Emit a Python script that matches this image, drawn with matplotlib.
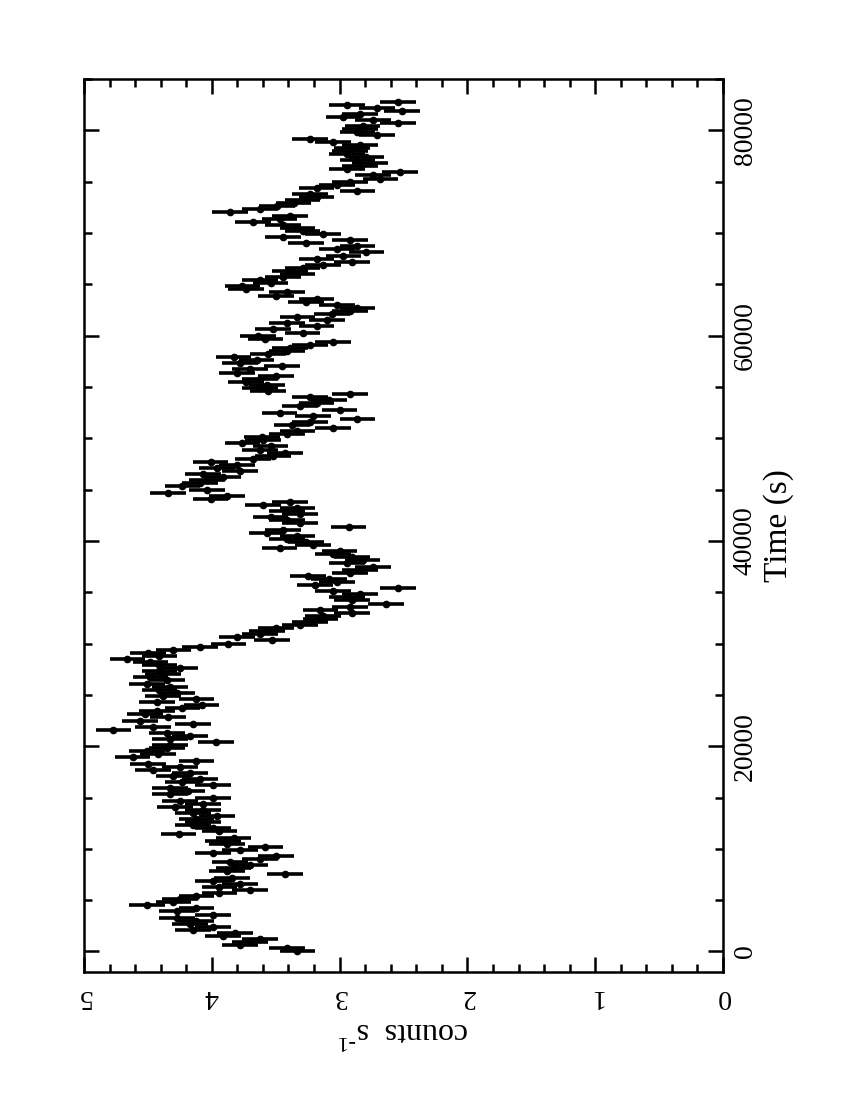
import numpy as np
import matplotlib
matplotlib.use('Agg')
import matplotlib.pyplot as plt
from matplotlib.ticker import MultipleLocator

plt.rcParams['font.family'] = ['Liberation Serif', 'DejaVu Serif']
plt.rcParams['mathtext.fontset'] = 'custom'
plt.rcParams['mathtext.rm'] = 'Liberation Serif'

# light curve, 300 s bins starting at t = 0
time_bin = 300.0
count_err = 0.14
rate = [
    3.33, 3.41, 3.78, 3.70, 3.62, 3.91, 3.82, 4.15, 3.99, 4.17,
    4.12, 4.27, 3.99, 4.27, 4.12, 4.51, 4.30, 4.25, 4.12, 3.94,
    3.70, 3.94, 3.78, 3.99, 3.84, 3.43, 3.88, 3.83, 3.70, 3.86,
    3.62, 3.50, 3.99, 3.78, 3.58, 3.88, 3.91, 3.83, 4.26, 3.94,
    3.99, 4.15, 4.07, 4.12, 3.96, 4.15, 4.07, 4.29, 4.07, 4.25,
    3.99, 4.33, 4.19, 4.33, 3.99, 4.23, 4.09, 4.30, 4.17, 4.46,
    4.25, 4.50, 4.12, 4.62, 4.42, 4.51, 4.35, 4.33, 3.97, 4.33,
    4.17, 4.35, 4.77, 4.46, 4.15, 4.56, 4.34, 4.52, 4.43, 4.23,
    4.08, 4.43, 4.12, 4.38, 4.27, 4.41, 4.33, 4.51, 4.35, 4.48,
    4.38, 4.41, 4.25, 4.41, 4.48, 4.66, 4.41, 4.50, 4.30, 4.09,
    3.87, 3.53, 3.80, 3.62, 3.57, 3.50, 3.31, 3.23, 3.15, 3.13,
    2.90, 3.15, 2.92, 2.64, 2.90, 2.94, 2.84, 3.05, 2.54, 3.19,
    3.02, 3.08, 3.25, 2.92, 2.84, 2.74, 2.94, 2.82, 2.90, 3.05,
    3.00, 3.47, 3.21, 3.26, 3.41, 3.33, 3.57, 3.44, 2.93, 3.31,
    3.41, 3.54, 3.31, 3.41, 3.33, 3.60, 3.39, 4.01, 3.88, 4.34,
    4.04, 4.23, 4.09, 4.04, 3.91, 4.07, 3.78, 3.96, 3.80, 4.01,
    3.68, 3.52, 3.43, 3.62, 3.54, 3.76, 3.60, 3.61, 3.41, 3.33,
    3.05, 3.37, 3.23, 2.86, 3.21, 3.47, 3.00, 3.31, 3.18, 3.08,
    3.23, 2.92, 3.56, 3.62, 3.57, 3.73, 3.62, 3.50, 3.80, 3.70,
    3.45, 3.78, 3.65, 3.83, 3.56, 3.41, 3.39, 3.23, 3.05, 3.58,
    3.64, 3.29, 3.52, 3.18, 3.41, 3.10, 3.33, 3.06, 2.92, 2.86,
    3.02, 3.26, 3.18, 3.50, 3.41, 3.73, 3.76, 3.54, 3.62, 3.44,
    3.33, 3.39, 3.29, 3.13, 2.90, 3.18, 2.97, 2.79, 3.02, 2.86,
    3.26, 2.92, 3.44, 3.13, 3.29, 3.33, 3.44, 3.68, 3.47, 3.39,
    3.86, 3.62, 3.49, 3.36, 3.29, 3.18, 3.23, 2.86, 3.18, 3.02,
    2.92, 2.68, 2.74, 2.53, 2.94, 2.84, 2.76, 2.86, 2.79, 2.94,
    2.92, 2.90, 2.84, 3.05, 3.23, 2.71, 2.86, 2.84, 2.82, 2.54,
    2.74, 2.97, 2.84, 2.51, 2.71, 2.94, 2.54,
]

time = np.arange(len(rate)) * time_bin

fig = plt.figure(figsize=(8.5, 11), dpi=100)
ax = fig.add_axes([84 / 850, 1 - 972 / 1100, (723 - 84) / 850, (972 - 79) / 1100])

ax.errorbar(rate, time, xerr=count_err, yerr=time_bin / 2, fmt='o', color='black',
            ms=4.5, elinewidth=2.6, capsize=0)

ax.set_xlim(5, 0)
ax.set_ylim(-2000, 85000)

ax.xaxis.set_major_locator(MultipleLocator(1))
ax.xaxis.set_minor_locator(MultipleLocator(0.2))
ax.yaxis.set_major_locator(MultipleLocator(20000))
ax.yaxis.set_minor_locator(MultipleLocator(5000))

ax.tick_params(which='both', direction='in', top=True, bottom=True, left=True, right=True,
               labelleft=False, labelright=True, width=1.8)
ax.tick_params(which='major', length=11)
ax.tick_params(which='minor', length=6)
ax.tick_params(axis='x', labelsize=20, pad=9)
ax.tick_params(axis='y', labelsize=20, pad=7)
for lab in ax.get_xticklabels():
    lab.set_rotation(180)
for lab in ax.get_yticklabels():
    lab.set_rotation(90)
    lab.set_verticalalignment('center')

for s in ax.spines.values():
    s.set_linewidth(1.8)

ax.yaxis.set_label_position('right')
ax.set_ylabel('Time (s)', fontsize=24, rotation=90, labelpad=4)
ax.set_xlabel('counts  s$^{\\mathrm{\u2010}1}$', fontsize=23, rotation=180, labelpad=4)

fig.savefig('out.png', dpi=100)
